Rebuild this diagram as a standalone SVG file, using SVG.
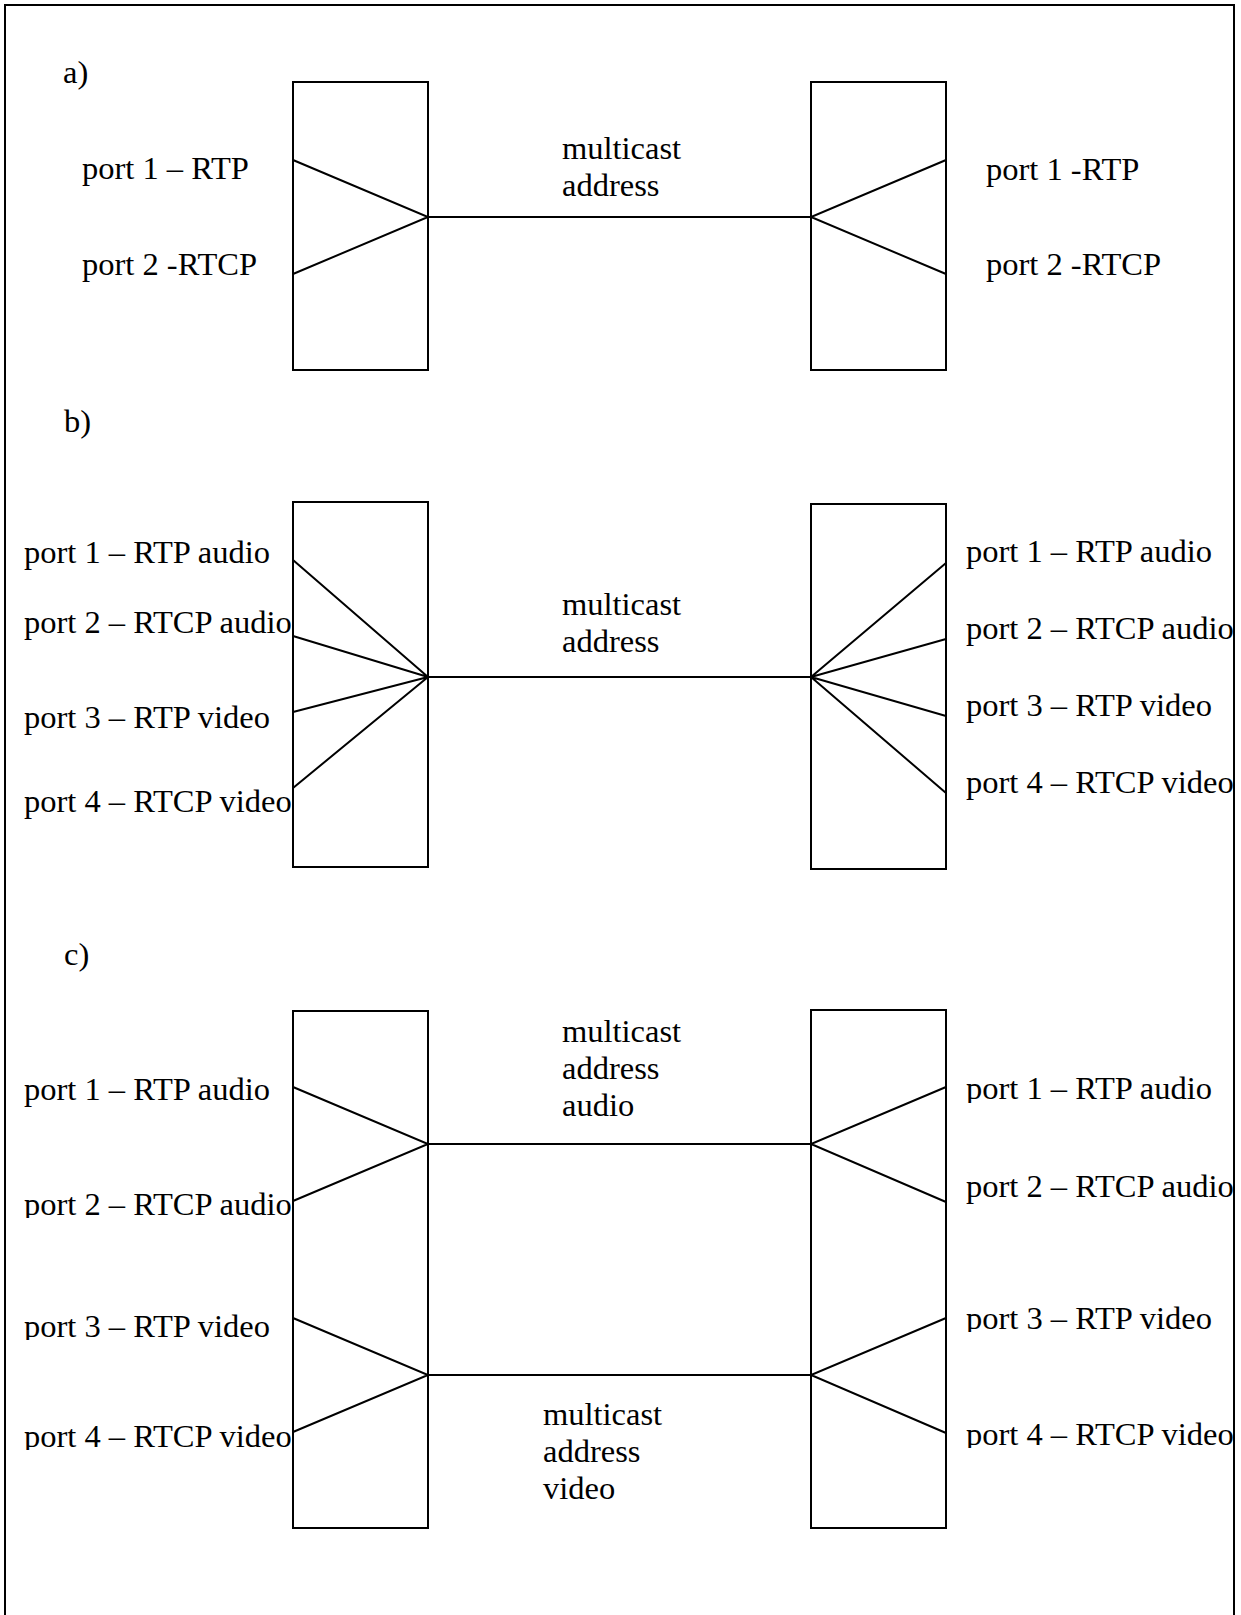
<svg xmlns="http://www.w3.org/2000/svg" width="1241" height="1615" viewBox="0 0 1241 1615">
  <style>
    .frame { fill: none; stroke: #000; stroke-width: 2; }
    .box { fill: #fff; stroke: #000; stroke-width: 2; }
    .wire { fill: none; stroke: #000; stroke-width: 2; stroke-linecap: round; }
    text { font-family: "Liberation Serif", "Times New Roman", serif; font-size: 32.5px; fill: #000; }
  </style>
  <defs>
    <!-- labels in part c) are cut off just under the baseline -->
    <clipPath id="cut-l2"><rect x="0" y="1170" width="300" height="48"/></clipPath>
    <clipPath id="cut-l3"><rect x="0" y="1300" width="300" height="40"/></clipPath>
    <clipPath id="cut-l4"><rect x="0" y="1410" width="300" height="40"/></clipPath>
    <clipPath id="cut-r1"><rect x="950" y="1060" width="290" height="43"/></clipPath>
    <clipPath id="cut-r3"><rect x="950" y="1290" width="290" height="42"/></clipPath>
    <clipPath id="cut-r4"><rect x="950" y="1410" width="290" height="38"/></clipPath>
  </defs>
  <rect width="1241" height="1615" fill="#fff"/>

  <!-- page frame, open at the bottom -->
  <path class="frame" d="M5,1615 V5 H1234 V1615"/>

  <!-- ===== a) ===== -->
  <text x="63" y="83">a)</text>

  <g id="a-left">
    <rect class="box" x="293" y="82" width="135" height="288"/>
    <path class="wire" d="M293,160 L428,217 L293,274"/>
    <text x="82" y="179">port 1 – RTP</text>
    <text x="82" y="275">port 2 -RTCP</text>
  </g>

  <g id="a-right">
    <rect class="box" x="811" y="82" width="135" height="288"/>
    <path class="wire" d="M946,160 L811,217 L946,274"/>
    <text x="986" y="180">port 1 -RTP</text>
    <text x="986" y="275">port 2 -RTCP</text>
  </g>

  <!-- ===== b) ===== -->
  <text x="64" y="432">b)</text>

  <g id="b-left">
    <rect class="box" x="293" y="502" width="135" height="365"/>
    <path class="wire" d="M293,560 L428,677 M293,636 L428,677 M293,712 L428,677 M293,788 L428,677"/>
    <text x="24" y="563">port 1 – RTP audio</text>
    <text x="24" y="633">port 2 – RTCP audio</text>
    <text x="24" y="728">port 3 – RTP video</text>
    <text x="24" y="812">port 4 – RTCP video</text>
  </g>

  <g id="b-right">
    <rect class="box" x="811" y="504" width="135" height="365"/>
    <path class="wire" d="M811,677 L946,563 M811,677 L946,639 M811,677 L946,716 M811,677 L946,793"/>
    <text x="966" y="562">port 1 – RTP audio</text>
    <text x="966" y="639">port 2 – RTCP audio</text>
    <text x="966" y="716">port 3 – RTP video</text>
    <text x="966" y="793">port 4 – RTCP video</text>
  </g>

  <!-- ===== c) ===== -->
  <text x="64" y="965">c)</text>

  <g id="c-left">
    <rect class="box" x="293" y="1011" width="135" height="517"/>
    <path class="wire" d="M293,1087 L428,1144 L293,1201 M293,1318 L428,1375 L293,1432"/>
    <text x="24" y="1100">port 1 – RTP audio</text>
    <text x="24" y="1215" clip-path="url(#cut-l2)">port 2 – RTCP audio</text>
    <text x="24" y="1337" clip-path="url(#cut-l3)">port 3 – RTP video</text>
    <text x="24" y="1447" clip-path="url(#cut-l4)">port 4 – RTCP video</text>
  </g>

  <g id="c-right">
    <rect class="box" x="811" y="1010" width="135" height="518"/>
    <path class="wire" d="M946,1087 L811,1144 L946,1202 M946,1318 L811,1375 L946,1433"/>
    <text x="966" y="1099" clip-path="url(#cut-r1)">port 1 – RTP audio</text>
    <text x="966" y="1197">port 2 – RTCP audio</text>
    <text x="966" y="1329" clip-path="url(#cut-r3)">port 3 – RTP video</text>
    <text x="966" y="1445" clip-path="url(#cut-r4)">port 4 – RTCP video</text>
  </g>

  <!-- multicast links between the two ends -->
  <g id="connectors">
    <line class="wire" x1="428" y1="217" x2="811" y2="217"/>
    <text x="562" y="159">multicast</text>
    <text x="562" y="196">address</text>

    <line class="wire" x1="428" y1="677" x2="811" y2="677"/>
    <text x="562" y="615">multicast</text>
    <text x="562" y="652">address</text>

    <line class="wire" x1="428" y1="1144" x2="811" y2="1144"/>
    <text x="562" y="1042">multicast</text>
    <text x="562" y="1079">address</text>
    <text x="562" y="1116">audio</text>

    <line class="wire" x1="428" y1="1375" x2="811" y2="1375"/>
    <text x="543" y="1425">multicast</text>
    <text x="543" y="1462">address</text>
    <text x="543" y="1499">video</text>
  </g>
</svg>
